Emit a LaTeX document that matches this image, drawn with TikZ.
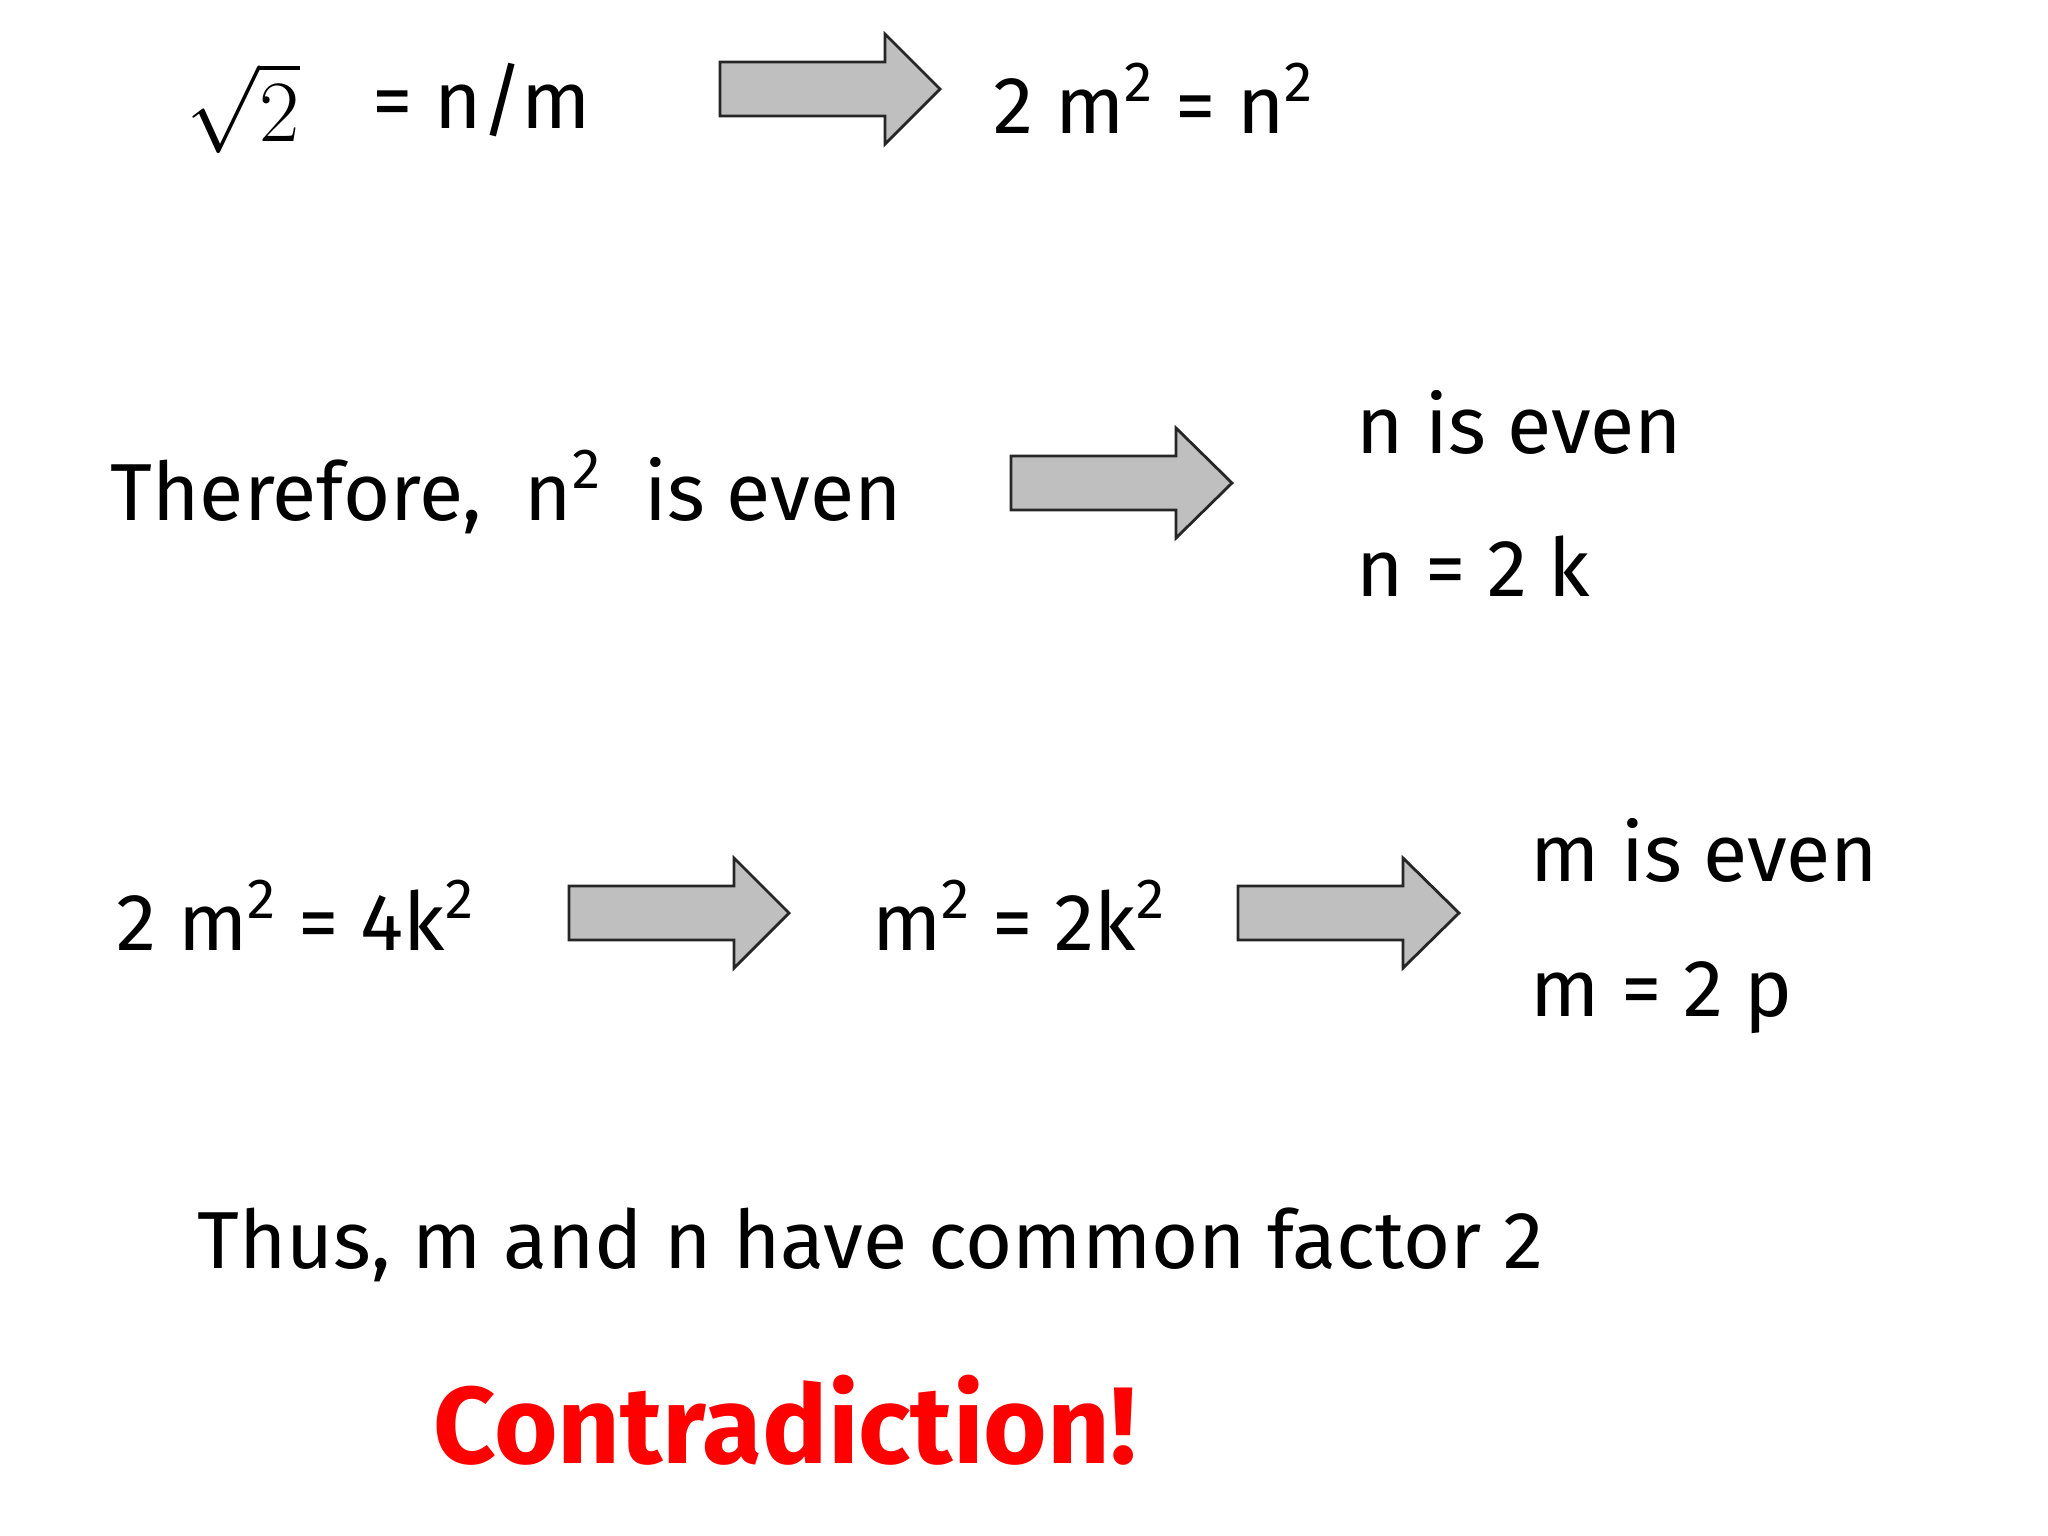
\documentclass[tikz,border=0pt]{standalone}
\usepackage{fontspec}
\setmainfont{Fira Sans}
\usepackage{amsmath}
\begin{document}
\begin{tikzpicture}[x=0.01cm,y=-0.01cm,
  txt/.style={font=\fontsize{23}{26}\selectfont, inner sep=0pt},
  lt/.style={txt, anchor=west}]
\useasboundingbox (0,0) rectangle (2048,1536);
\newcommand{\bigarrow}[3]{% x, ycenter, length
  \fill[gray!50] (#1,#2-27) -- (#1+165,#2-27) -- (#1+165,#2-55) -- (#1+#3,#2) -- (#1+165,#2+55) -- (#1+165,#2+27) -- (#1,#2+27) -- cycle;
  \draw[line width=0.8pt,gray!30!black] (#1,#2-27) -- (#1+165,#2-27) -- (#1+165,#2-55) -- (#1+#3,#2) -- (#1+165,#2+55) -- (#1+165,#2+27) -- (#1,#2+27) -- cycle;}
\node[txt] (sq) at (243,108) {\fontsize{56}{60}\selectfont$\sqrt{2}$};
\node[lt] (nm) at (372,100) {= n/m};
\bigarrow{720}{89}{220}
\node[lt] (r1) at (993,98) {2 m\textsuperscript{2} = n\textsuperscript{2}};
\node[lt] (t1) at (110,492) {Therefore, \ n\textsuperscript{2} \ is even};
\bigarrow{1011}{483}{221}
\node[lt] (ne) at (1356,422) {n is even};
\node[lt] (n2k) at (1356,566) {n = 2 k};
\node[lt] (e1) at (116,915) {2 m\textsuperscript{2} = 4k\textsuperscript{2}};
\bigarrow{569}{913}{220}
\node[txt] (e2) at (1019,915) {m\textsuperscript{2} = 2k\textsuperscript{2}};
\bigarrow{1238}{913}{221}
\node[lt] (me) at (1530,850) {m is even};
\node[lt] (m2p) at (1530,998) {m = 2 p};
\node[lt] (th) at (197,1245) {Thus, m and n have common factor 2};
\node[lt, text=red, font=\fontsize{31}{34}\selectfont\bfseries] (c) at (433,1420) {Contradiction!};
\end{tikzpicture}
\end{document}
